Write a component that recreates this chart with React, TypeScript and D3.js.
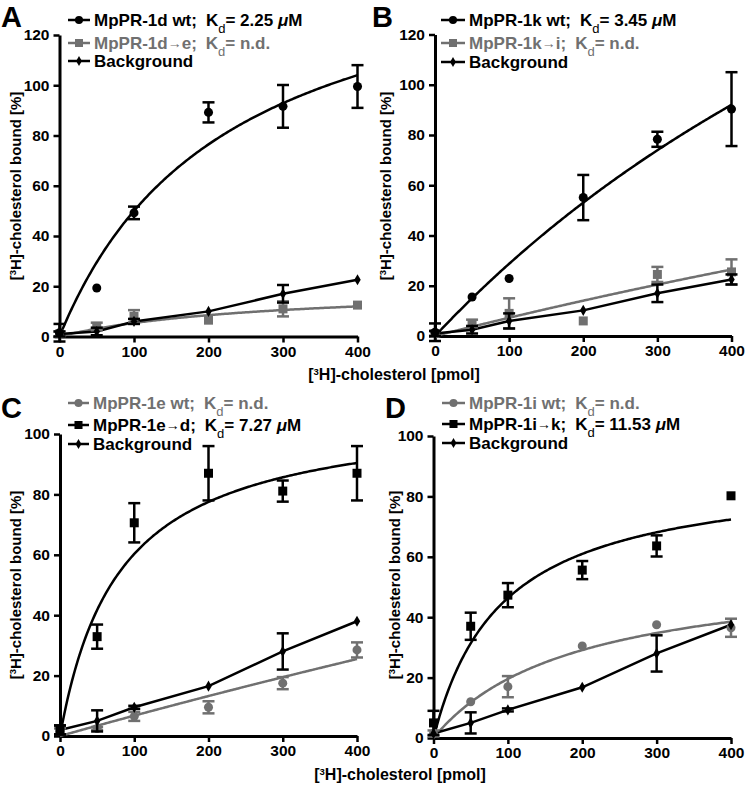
import React, { useEffect, useRef } from 'react';
import * as d3 from 'd3';

// shared x values (pmol of [3H]-cholesterol)
const doses = [0, 50, 100, 200, 300, 400];
const xTicks = [0, 100, 200, 300, 400];
const yTicks120 = [0, 20, 40, 60, 80, 100, 120];
const yTicks100 = [0, 20, 40, 60, 80, 100];

// Panel A
const aWt = [1.5, 19.3, 49.2, 89.2, 91.6, 99.5];
const aWtErr = [3.5, 0, 2.5, 4, 8.5, 8.5];
const aMut = [1, 4, 8, 6.5, 11, 12.5];
const aMutErr = [1, 1.5, 2.5, 0, 3, 0];
const aBg = [1, 2, 6, 10, 17, 22.6];
const aBgErr = [1, 1.5, 1, 0, 3.5, 0];
const aWtFit = [162.5, 225]; // Bmax, K
const aMutFit = [20.3, 278];

// Panel B
const bWt = [1.5, 15.5, 22.9, 55.1, 78.3, 90.3];
const bWtErr = [3.5, 0, 0, 9, 3, 14.7];
const bMut = [1, 5, 9, 6, 24.5, 25.5];
const bMutErr = [1, 1.5, 6, 0, 3, 5];
const bBg = [1, 2.5, 6, 10.2, 17, 22.5];
const bBgErr = [1, 1.5, 3, 0, 3.5, 2];
const bWtFit = [345, 1100];
const bMutFit = [225, 3000];

// Panel C
const cMut = [2, 32.9, 70.6, 87, 81.1, 87];
const cMutErr = [1.5, 4, 6.5, 9, 3.5, 9];
const cWt = [1.5, 2.5, 6.5, 9.5, 17.5, 28.5];
const cWtErr = [1, 0.5, 1.5, 2, 2, 2.5];
const cBg = [2, 5, 9.5, 16.5, 28, 38];
const cBgErr = [1.5, 3.5, 0.5, 0, 6, 0];
const cMutFit = [108.5, 80];
const cWtFit = [344, 5000];

// Panel D
const dMut = [5, 37, 47.3, 55.6, 63.6, 80.2];
const dMutErr = [4, 4.5, 4, 3, 3.5, 0];
const dWt = [1.5, 12, 17, 30.5, 37.5, 36.5];
const dWtErr = [1, 0, 3.5, 0, 0, 3];
const dBg = [1.5, 5, 9.3, 16.8, 28, 37.5];
const dBgErr = [0, 3.5, 0.5, 0, 6, 0];
const dMutFit = [89, 92];
const dWtFit = [56.9, 191];

const BLACK = '#000';
const GRAY = '#707070';
const FONT = '"Liberation Sans", Arial, Helvetica, sans-serif';

const panels = [
  {
    letter: 'A', lx: 1, ly: 27, x0: 59.5, x1: 357.5, y0: 336.5, yTop: 35, yMax: 120, yTicks: yTicks120,
    legX: 68, legW: 22, legRows: [20, 43, 61], ylab: [16, 186],
    series: [
      { label: 'MpPR-1d→e', kd: 'n.d.', color: GRAY, sym: 'square', v: aMut, e: aMutErr, fit: aMutFit, row: 1 },
      { label: 'MpPR-1d wt', kd: '2.25', color: BLACK, sym: 'circle', v: aWt, e: aWtErr, fit: aWtFit, row: 0 },
      { label: 'Background', kd: null, color: BLACK, sym: 'diamond', v: aBg, e: aBgErr, fit: null, row: 2 },
    ],
  },
  {
    letter: 'B', lx: 372, ly: 27, x0: 435, x1: 731.5, y0: 336, yTop: 34.5, yMax: 120, yTicks: yTicks120,
    legX: 441, legW: 24, legRows: [20, 43, 62], ylab: [386, 186],
    series: [
      { label: 'MpPR-1k→i', kd: 'n.d.', color: GRAY, sym: 'square', v: bMut, e: bMutErr, fit: bMutFit, row: 1 },
      { label: 'MpPR-1k wt', kd: '3.45', color: BLACK, sym: 'circle', v: bWt, e: bWtErr, fit: bWtFit, row: 0 },
      { label: 'Background', kd: null, color: BLACK, sym: 'diamond', v: bBg, e: bBgErr, fit: null, row: 2 },
    ],
  },
  {
    letter: 'C', lx: 1, ly: 418, x0: 60, x1: 357, y0: 736, yTop: 434, yMax: 100, yTicks: yTicks100,
    legX: 68, legW: 21, legRows: [403, 425, 444], ylab: [16, 585],
    series: [
      { label: 'MpPR-1e wt', kd: 'n.d.', color: GRAY, sym: 'circle', v: cWt, e: cWtErr, fit: cWtFit, row: 0 },
      { label: 'MpPR-1e→d', kd: '7.27', color: BLACK, sym: 'square', v: cMut, e: cMutErr, fit: cMutFit, row: 1 },
      { label: 'Background', kd: null, color: BLACK, sym: 'diamond', v: cBg, e: cBgErr, fit: null, row: 2 },
    ],
  },
  {
    letter: 'D', lx: 385, ly: 418, x0: 433.5, x1: 731, y0: 738, yTop: 436, yMax: 100, yTicks: yTicks100,
    legX: 442, legW: 23, legRows: [403, 424, 443], ylab: [395, 585],
    series: [
      { label: 'MpPR-1i wt', kd: 'n.d.', color: GRAY, sym: 'circle', v: dWt, e: dWtErr, fit: dWtFit, row: 0 },
      { label: 'MpPR-1i→k', kd: '11.53', color: BLACK, sym: 'square', v: dMut, e: dMutErr, fit: dMutFit, row: 1 },
      { label: 'Background', kd: null, color: BLACK, sym: 'diamond', v: dBg, e: dBgErr, fit: null, row: 2 },
    ],
  },
];

const xLabels = [[394, 380], [400, 780]];

function symbolFor(name: string, scale = 1) {
  if (name === 'circle') return d3.symbol().type(d3.symbolCircle).size(64 * scale)();
  if (name === 'square') return d3.symbol().type(d3.symbolSquare).size(81 * scale)();
  return d3.symbol().type(d3.symbolDiamond).size(36 * scale)();
}

function addCholText(sel: any, rest: string) {
  sel.append('tspan').text('[');
  sel.append('tspan').attr('font-size', 9.5).attr('dy', -5).text('3');
  sel.append('tspan').attr('dy', 5).text('H]-cholesterol ' + rest);
}

export default function App() {
  const svgRef = useRef<SVGSVGElement>(null);

  useEffect(() => {
    const svg = d3.select(svgRef.current);
    svg.selectAll('*').remove();
    svg.attr('font-family', FONT).attr('font-weight', 'bold');

    panels.forEach(p => {
      const g = svg.append('g');
      const x = d3.scaleLinear().domain([0, 400]).range([p.x0, p.x1]);
      const y = d3.scaleLinear().domain([0, p.yMax]).range([p.y0, p.yTop]);

      g.append('text').attr('x', p.lx).attr('y', p.ly).attr('font-size', 29).text(p.letter);

      // axes
      const xa = g.append('g').attr('transform', `translate(0,${p.y0})`)
        .call(d3.axisBottom(x).tickValues(xTicks).tickSize(6).tickSizeOuter(0).tickPadding(3));
      const ya = g.append('g').attr('transform', `translate(${p.x0},0)`)
        .call(d3.axisLeft(y).tickValues(p.yTicks).tickSize(6).tickSizeOuter(0).tickPadding(4));
      [xa, ya].forEach(a => {
        a.select('.domain').attr('stroke-width', 3).attr('stroke', BLACK);
        a.selectAll('.tick line').attr('stroke-width', 2.5).attr('stroke', BLACK);
        a.selectAll('.tick text').attr('font-size', 15.5).attr('font-family', FONT).attr('font-weight', 'bold').attr('fill', BLACK);
        a.attr('font-family', null).attr('font-size', null);
      });

      const yl = g.append('text')
        .attr('transform', `translate(${p.ylab[0]},${p.ylab[1]}) rotate(-90)`)
        .attr('text-anchor', 'middle').attr('dy', 5).attr('font-size', 15);
      addCholText(yl, 'bound [%]');

      // lines
      const line = d3.line<number[]>().x(d => x(d[0])).y(d => y(d[1]));
      p.series.forEach(s => {
        const pts = s.fit
          ? d3.range(0, 401, 2).map(v => [v, (s.fit![0] * v) / (s.fit![1] + v)])
          : doses.map((v, i) => [v, s.v[i]]);
        g.append('path').attr('d', line(pts)).attr('fill', 'none')
          .attr('stroke', s.color).attr('stroke-width', 2.5);
      });

      // error bars + markers
      p.series.forEach(s => {
        doses.forEach((d, i) => {
          const err = s.e[i];
          if (!err) return;
          const cx = x(d);
          const lo = y(s.v[i] - err), hi = y(s.v[i] + err);
          g.append('line').attr('x1', cx).attr('x2', cx).attr('y1', lo).attr('y2', hi)
            .attr('stroke', s.color).attr('stroke-width', 2.5);
          [lo, hi].forEach(yy => g.append('line').attr('x1', cx - 6).attr('x2', cx + 6)
            .attr('y1', yy).attr('y2', yy).attr('stroke', s.color).attr('stroke-width', 2.5));
        });
        g.selectAll(null).data(doses).enter().append('path')
          .attr('d', symbolFor(s.sym))
          .attr('transform', (d, i) => `translate(${x(d)},${y(s.v[i])})`)
          .attr('fill', s.color);
      });

      // legend
      p.series.forEach(s => {
        const cy = p.legRows[s.row];
        g.append('line').attr('x1', p.legX).attr('x2', p.legX + p.legW).attr('y1', cy).attr('y2', cy)
          .attr('stroke', s.color).attr('stroke-width', 2.5);
        g.append('path').attr('d', symbolFor(s.sym, 0.8))
          .attr('transform', `translate(${p.legX + p.legW / 2},${cy})`).attr('fill', s.color);
        const t = g.append('text').attr('x', p.legX + p.legW + 4).attr('y', cy + 6)
          .attr('font-size', 17).attr('fill', s.color);
        const parts = s.label.split('→');
        t.append('tspan').text(parts[0]);
        if (parts.length > 1) {
          t.append('tspan').attr('font-size', 14).attr('dy', -1).text('→');
          t.append('tspan').attr('dy', 1).text(parts[1]);
        }
        if (s.kd) {
          t.append('tspan').text(';');
          t.append('tspan').attr('dx', 9).text('K');
          t.append('tspan').attr('font-size', 13).attr('dy', 7).attr('font-weight', 'normal').text('d');
          if (s.kd === 'n.d.') {
            t.append('tspan').attr('dy', -7).text('= n.d.');
          } else {
            t.append('tspan').attr('dy', -7).text(`= ${s.kd} `);
            t.append('tspan').attr('font-style', 'italic').text('μ');
            t.append('tspan').text('M');
          }
        }
      });
    });

    xLabels.forEach(([cx, cy]) => {
      const t = svg.append('text').attr('x', cx).attr('y', cy).attr('text-anchor', 'middle').attr('font-size', 16);
      addCholText(t, '[pmol]');
    });
  }, []);

  return (
    <svg ref={svgRef} width={745} height={787}
      style={{ position: 'absolute', left: 0, top: 0, background: '#fff' }} />
  );
}
